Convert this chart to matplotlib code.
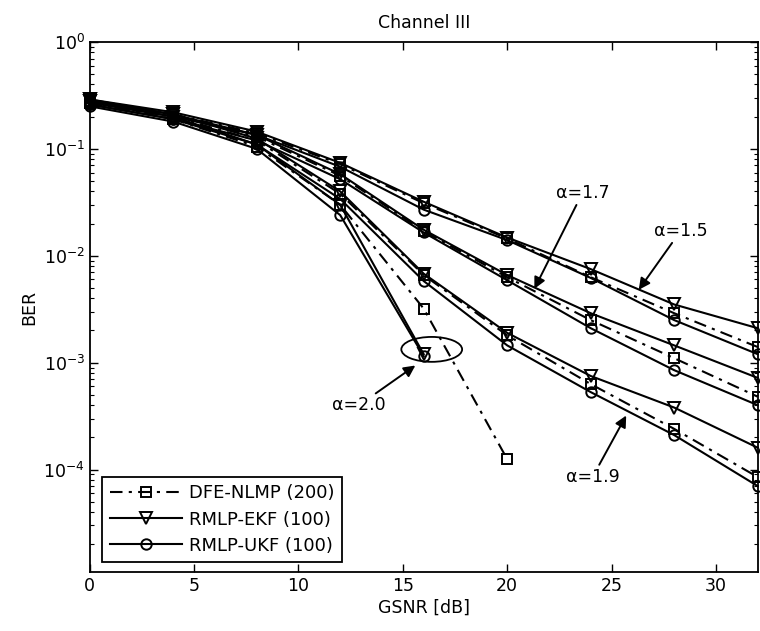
import matplotlib
matplotlib.use("Agg")
import matplotlib.pyplot as plt
from matplotlib.patches import Ellipse
from matplotlib.lines import Line2D

plt.rcParams['font.family'] = ['DejaVu Sans']
plt.rcParams['font.size'] = 12.5

gsnr = [0, 4, 8, 12, 16, 20, 24, 28, 32]

# DFE-NLMP (200)
dfe_a15 = [0.28, 0.21, 0.14, 0.072, 0.031, 0.0145, 0.0063, 0.0029, 0.0014]
dfe_a17 = [0.28, 0.21, 0.13, 0.056, 0.017, 0.0063, 0.0025, 0.0011, 0.00048]
dfe_a19 = [0.27, 0.20, 0.12, 0.038, 0.0066, 0.0018, 0.00063, 0.00024, 0.000085]
dfe_a20 = [0.27, 0.19, 0.105, 0.03, 0.0032, 0.000125]

# RMLP-EKF (100)
ekf_a15 = [0.29, 0.22, 0.145, 0.074, 0.032, 0.0148, 0.0075, 0.0035, 0.0021]
ekf_a17 = [0.29, 0.21, 0.135, 0.058, 0.0175, 0.0066, 0.0029, 0.00145, 0.00072]
ekf_a19 = [0.28, 0.21, 0.125, 0.040, 0.0068, 0.0019, 0.00075, 0.00038, 0.00016]
ekf_a20 = [0.28, 0.20, 0.11, 0.030, 0.0012]

# RMLP-UKF (100)
ukf_a15 = [0.27, 0.20, 0.135, 0.068, 0.027, 0.014, 0.0062, 0.0025, 0.0012]
ukf_a17 = [0.26, 0.19, 0.12, 0.052, 0.0165, 0.0059, 0.0021, 0.00085, 0.0004]
ukf_a19 = [0.26, 0.19, 0.11, 0.034, 0.0058, 0.00145, 0.00053, 0.00021, 0.00007]
ukf_a20 = [0.25, 0.18, 0.10, 0.024, 0.00115]

labels = ['DFE-NLMP (200)', 'RMLP-EKF (100)', 'RMLP-UKF (100)']

fig = plt.figure(figsize=(7.6, 6.31), dpi=100)
ax = fig.add_axes([0.118, 0.0935, 0.879, 0.84])

lw = 1.5
ms = 7.5
dashdot = (0, (6, 3, 1.5, 3))

dfe_style = dict(color='black', lw=lw, linestyle=dashdot, marker='s',
                 ms=ms - 0.5, mfc='none', mec='black', mew=1.4)
ekf_style = dict(color='black', lw=lw, linestyle='-', marker='v',
                 ms=ms + 1, mfc='none', mec='black', mew=1.4)
ukf_style = dict(color='black', lw=lw, linestyle='-', marker='o',
                 ms=ms, mfc='none', mec='black', mew=1.4)

for ys in (dfe_a15, dfe_a17, dfe_a19, dfe_a20):
    ax.plot(gsnr[:len(ys)], ys, clip_on=False, zorder=3, **dfe_style)
for ys in (ekf_a15, ekf_a17, ekf_a19, ekf_a20):
    ax.plot(gsnr[:len(ys)], ys, clip_on=False, zorder=3, **ekf_style)
for ys in (ukf_a15, ukf_a17, ukf_a19, ukf_a20):
    ax.plot(gsnr[:len(ys)], ys, clip_on=False, zorder=3, **ukf_style)

ax.set_yscale('log')
ax.set_xlim(0, 32)
ax.set_ylim(1.1e-5, 1)
ax.set_xticks([0, 5, 10, 15, 20, 25, 30])
ax.tick_params(which='both', direction='in', top=True, right=True, labelsize=12.5)
ax.tick_params(which='major', length=6, width=1)
ax.tick_params(which='minor', length=3, width=0.8)
for sp in ax.spines.values():
    sp.set_linewidth(1.3)

ax.set_title('Channel III', fontsize=12.5, pad=10)
ax.set_xlabel('GSNR [dB]', fontsize=12.5, labelpad=3)
ax.set_ylabel('BER', fontsize=12.5, labelpad=4)

# ellipse marking the alpha = 2.0 end points
ax.add_patch(Ellipse((0.512, 0.42), 0.091, 0.047, transform=ax.transAxes,
                     fill=False, ec='black', lw=1.3, zorder=4))

arrow = dict(arrowstyle='-|>', color='black', lw=1.4, mutation_scale=17,
             shrinkA=0, shrinkB=0)
ax.annotate('α=1.7', xy=(21.3, 4.9e-3), xytext=(23.6, 0.0385),
            ha='center', va='center', fontsize=12.5, arrowprops=arrow)
ax.annotate('α=1.5', xy=(26.3, 4.8e-3), xytext=(28.3, 0.017),
            ha='center', va='center', fontsize=12.5, arrowprops=arrow)
ax.annotate('α=2.0', xy=(15.6, 9.4e-4), xytext=(12.9, 4.0e-4),
            ha='center', va='center', fontsize=12.5, arrowprops=arrow)
ax.annotate('α=1.9', xy=(25.7, 3.2e-4), xytext=(24.1, 8.6e-5),
            ha='center', va='center', fontsize=12.5, arrowprops=arrow)

handles = [Line2D([], [], **dfe_style), Line2D([], [], **ekf_style),
           Line2D([], [], **ukf_style)]
leg = ax.legend(handles, labels, loc='lower left', bbox_to_anchor=(0.019, 0.019),
                fontsize=13, handlelength=4.0, handletextpad=0.4,
                labelspacing=0.45, borderpad=0.4, borderaxespad=0,
                fancybox=False, framealpha=1, edgecolor='black')
leg.get_frame().set_linewidth(1.3)

fig.savefig('out.png', dpi=100)
